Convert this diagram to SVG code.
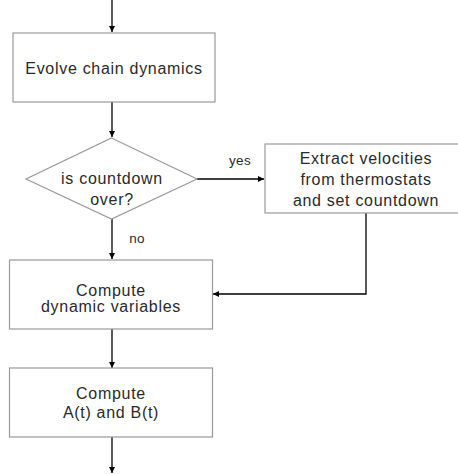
<svg xmlns="http://www.w3.org/2000/svg" width="458" height="474" viewBox="0 0 458 474">
<style>
.box{fill:#fff;stroke:#9a9a9a;stroke-width:1.2}
.t{font-family:"Liberation Sans",Arial,sans-serif;font-size:16px;fill:#2a2a2a;text-anchor:middle;letter-spacing:0.7px}
.lbl{font-family:"Liberation Sans",Arial,sans-serif;font-size:13.5px;fill:#2a2a2a;text-anchor:middle;letter-spacing:0.3px}
.c{fill:none;stroke:#000;stroke-width:1.3}
</style>
<defs>
<marker id="ah" viewBox="0 0 10 10" refX="10" refY="5" markerWidth="6" markerHeight="6" markerUnits="userSpaceOnUse" orient="auto">
<path d="M0,0 L10,5 L0,10 z" fill="#000"/>
</marker>
</defs>
<g id="connectors">
<path class="c" d="M112,0 V32" marker-end="url(#ah)"/>
<path class="c" d="M112,102 V137" marker-end="url(#ah)"/>
<path class="c" d="M197,179 H264" marker-end="url(#ah)"/>
<path class="c" d="M112,219 V259" marker-end="url(#ah)"/>
<path class="c" d="M366,213 V294 H213" marker-end="url(#ah)"/>
<path class="c" d="M112,329 V368" marker-end="url(#ah)"/>
<path class="c" d="M112,437 V473" marker-end="url(#ah)"/>
<text class="lbl" x="240" y="165">yes</text>
<text class="lbl" x="137" y="243">no</text>
</g>
<g id="evolve">
<rect class="box" x="13" y="33" width="202" height="69"/>
<text class="t" x="114" y="74">Evolve chain dynamics</text>
</g>
<g id="decision">
<polygon class="box" points="111.5,138 197,179 111.5,219 26,179"/>
<text class="t" x="112" y="184">is countdown</text>
<text class="t" x="112" y="205">over?</text>
</g>
<g id="extract">
<rect class="box" x="265" y="144" width="202" height="69"/>
<text class="t" x="366" y="163.5">Extract velocities</text>
<text class="t" x="366" y="184.5">from thermostats</text>
<text class="t" x="366" y="205.5">and set countdown</text>
</g>
<g id="dynvars">
<rect class="box" x="9.5" y="260" width="203" height="69"/>
<text class="t" x="111" y="296">Compute</text>
<text class="t" x="111" y="312">dynamic variables</text>
</g>
<g id="ab">
<rect class="box" x="9.5" y="368" width="203" height="69"/>
<text class="t" x="111" y="399">Compute</text>
<text class="t" x="111" y="418">A(t) and B(t)</text>
</g>
</svg>
